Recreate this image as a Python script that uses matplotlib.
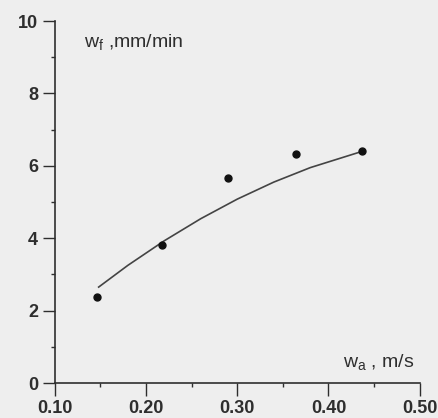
import matplotlib.pyplot as plt
from matplotlib.ticker import MultipleLocator

# measured points
wa = [0.146, 0.218, 0.290, 0.364, 0.437]
wf = [2.37, 3.81, 5.66, 6.32, 6.40]

# fitted curve, read along its length
curve_wa = [0.148, 0.18, 0.22, 0.26, 0.30, 0.34, 0.38, 0.437]
curve_wf = [2.65, 3.25, 3.93, 4.54, 5.08, 5.55, 5.95, 6.40]

xticks = [0.10, 0.20, 0.30, 0.40, 0.50]
xticklabels = ['0.10', '0.20', '0.30', '0.40', '0.50']
yticks = [0, 2, 4, 6, 8, 10]

bg = '#eeeeee'
ink = '#2e2e2e'
plt.rcParams['font.family'] = ['Liberation Sans', 'DejaVu Sans']

fig = plt.figure(figsize=(4.39, 4.18), dpi=100, facecolor=bg)
ax = fig.add_axes([0.1250, 0.0837, 0.831, 0.866], facecolor=bg)

ax.plot(curve_wa, curve_wf, color='#444444', lw=1.2)
ax.plot(wa, wf, 'o', color='#111111', ms=5)

ax.set_xlim(0.10, 0.50)
ax.set_ylim(0, 10)
ax.set_xticks(xticks)
ax.set_xticklabels(xticklabels)
ax.set_yticks(yticks)
ax.xaxis.set_minor_locator(MultipleLocator(0.05))
ax.yaxis.set_minor_locator(MultipleLocator(1))

for s in ['top', 'right']:
    ax.spines[s].set_visible(False)
for s in ['left', 'bottom']:
    ax.spines[s].set_color(ink)
    ax.spines[s].set_linewidth(1.2)
    ax.spines[s].set_zorder(0)

ax.tick_params(which='major', length=9, width=1.0, color=ink, labelcolor=ink,
               labelsize=13, pad=3)
ax.tick_params(which='minor', length=3, width=1.0, color=ink)
for lab in ax.get_xticklabels() + ax.get_yticklabels():
    lab.set_fontweight('bold')

ax.text(0.08, 0.94, r'w$_\mathregular{f}$ ,mm/min', transform=ax.transAxes,
        fontsize=14, color=ink, va='center', ha='left')
ax.text(0.985, 0.055, r'w$_\mathregular{a}$ , m/s', transform=ax.transAxes,
        fontsize=14, color=ink, va='center', ha='right')

fig.savefig('out.png', dpi=100, facecolor=bg)
